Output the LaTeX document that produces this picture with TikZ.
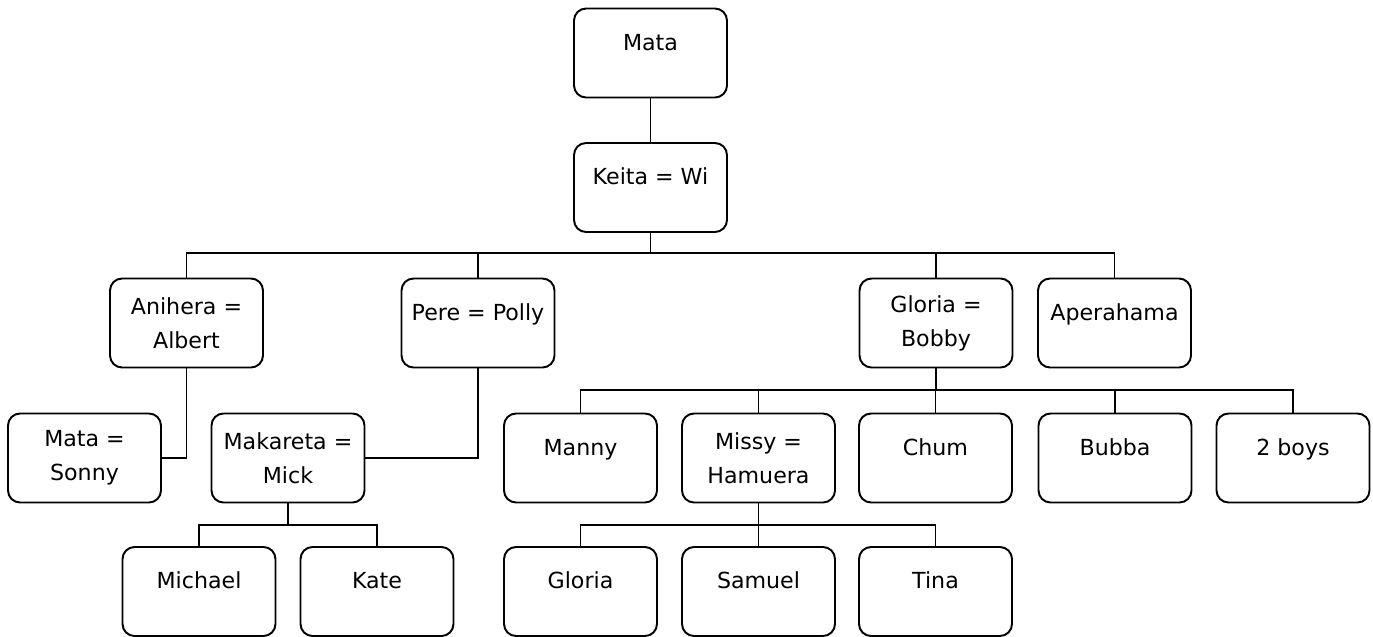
\documentclass[tikz,border=0pt]{standalone}
\usepackage{fontspec}
\setmainfont{DejaVu Sans}

\tikzset{
	box/.style={draw, rounded corners=0.24cm, minimum width=3.06cm, minimum height=1.78cm,
		inner sep=0pt, line width=1.1pt, font=\fontsize{12.6}{19.3}\selectfont},
	couple/.style={box, align=center},
	single/.style={box, text height=9pt, text depth=12.4pt},
	link/.style={line width=1.1pt}
}

\begin{document}
\begin{tikzpicture}[x=0.02cm,y=-0.02cm]
	\useasboundingbox (0,0) rectangle (1373,636);

	\node[single] (mata) at (650.5,53) {Mata};
	\node[single] (keita) at (650.5,187.5) {Keita = Wi};

	\node[couple] (anihera) at (186.5,323) {Anihera =\\Albert};
	\node[single] (pere) at (478,323) {Pere = Polly};
	\node[couple] (gloriab) at (936,323) {Gloria =\\Bobby};
	\node[single] (aperahama) at (1114.5,323) {Aperahama};

	\node[couple] (matas) at (84.5,458) {Mata =\\Sonny};
	\node[couple] (makareta) at (288,458) {Makareta =\\Mick};
	\node[single] (manny) at (580.5,458) {Manny};
	\node[couple] (missy) at (758.5,458) {Missy =\\Hamuera};
	\node[single] (chum) at (935.5,458) {Chum};
	\node[single] (bubba) at (1115,458) {Bubba};
	\node[single] (boys) at (1293,458) {2 boys};

	\node[single] (michael) at (199,591.5) {Michael};
	\node[single] (kate) at (377,591.5) {Kate};
	\node[single] (gloria) at (580.5,591.5) {Gloria};
	\node[single] (samuel) at (758.5,591.5) {Samuel};
	\node[single] (tina) at (935.5,591.5) {Tina};

	\coordinate (keitabus) at (650.5,253);
	\coordinate (gloriabus) at (936,390);
	\coordinate (makaretabus) at (288,525);
	\coordinate (missybus) at (758.5,525);

	\draw[link] (mata.south) -- (keita.north);
	\draw[link] (keita.south) -- (keitabus);
	\draw[link] (keitabus) -| (anihera.north);
	\draw[link] (keitabus) -| (pere.north);
	\draw[link] (keitabus) -| (gloriab.north);
	\draw[link] (keitabus) -| (aperahama.north);

	\draw[link] (anihera.south) |- (matas.east);
	\draw[link] (pere.south) |- (makareta.east);

	\draw[link] (gloriab.south) -- (gloriabus);
	\draw[link] (gloriabus) -| (manny.north);
	\draw[link] (gloriabus) -| (missy.north);
	\draw[link] (gloriabus) -| (chum.north);
	\draw[link] (gloriabus) -| (bubba.north);
	\draw[link] (gloriabus) -| (boys.north);

	\draw[link] (makareta.south) -- (makaretabus);
	\draw[link] (makaretabus) -| (michael.north);
	\draw[link] (makaretabus) -| (kate.north);

	\draw[link] (missy.south) -- (missybus);
	\draw[link] (missybus) -| (gloria.north);
	\draw[link] (missybus) -| (samuel.north);
	\draw[link] (missybus) -| (tina.north);
\end{tikzpicture}
\end{document}
